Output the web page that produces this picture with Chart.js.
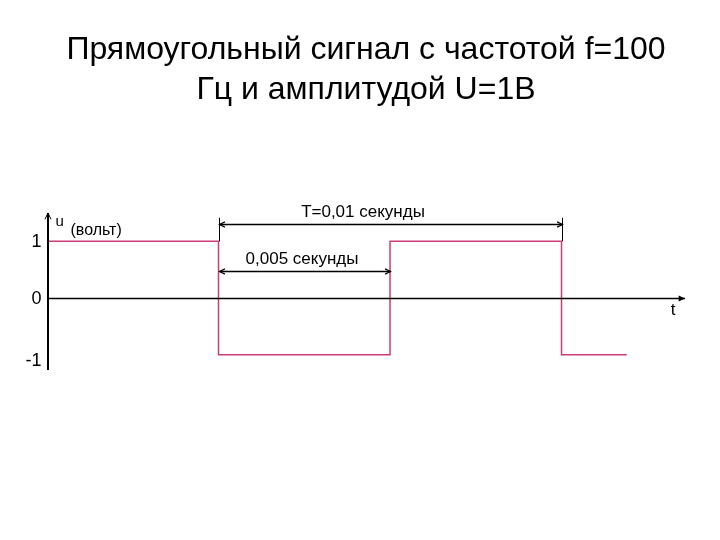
<!DOCTYPE html>
<html>
<head>
<meta charset="utf-8">
<script src="https://cdn.jsdelivr.net/npm/chart.js@4"></script>
<style>
  html, body { margin: 0; padding: 0; background: #fff; }
</style>
</head>
<body>
<canvas id="myChart" width="720" height="540"></canvas>
<script>
const titleLines = ["Прямоугольный сигнал с частотой f=100", "Гц и амплитудой U=1В"];

// square wave, seconds / volts
const timeSec = [0, 0, 0.005, 0.005, 0.01, 0.01, 0.015, 0.015, 0.0169];
const voltage = [0, 1, 1, -1, -1, 1, 1, -1, -1];

const yTickValues = [1, 0, -1];
const yTickLabels = ["1", "0", "-1"];
const yAxisLabel = ["u", "(вольт)"];
const xAxisLabel = "t";

// dimension marks: from, to, level (volts), text
const markFrom = [0.005, 0.005];
const markTo = [0.015, 0.01];
const markLevel = [1.31, 0.48];
const markText = ["T=0,01 секунды", "0,005 секунды"];

const FONT = "'Liberation Sans', Arial, sans-serif";
const waveColor = "#cc3d78";

const arrowHead = (ctx, x, y, dx, dy, size, filled) => {
  const a = Math.atan2(dy, dx);
  ctx.beginPath();
  ctx.moveTo(x - size * Math.cos(a - 0.45), y - size * Math.sin(a - 0.45));
  ctx.lineTo(x, y);
  ctx.lineTo(x - size * Math.cos(a + 0.45), y - size * Math.sin(a + 0.45));
  if (filled) {
    ctx.closePath();
    ctx.fill();
  } else {
    ctx.stroke();
  }
};

const axesPlugin = {
  id: "axesPlugin",
  afterDatasetsDraw(chart) {
    const { ctx, scales } = chart;
    const xs = scales.x;
    const ys = scales.y;
    const x0 = Math.round(xs.getPixelForValue(0)) + 0.5;
    const y0 = Math.round(ys.getPixelForValue(0)) + 0.5;
    const yTop = ys.getPixelForValue(ys.max);
    const yBot = ys.getPixelForValue(-1.27);
    const xEnd = xs.getPixelForValue(xs.max);

    ctx.save();
    ctx.strokeStyle = "#000";
    ctx.fillStyle = "#000";

    // y axis
    ctx.lineWidth = 2;
    ctx.beginPath();
    ctx.moveTo(x0 + 0.5, yBot);
    ctx.lineTo(x0 + 0.5, yTop);
    ctx.stroke();
    ctx.lineWidth = 1;
    arrowHead(ctx, x0 + 0.5, yTop, 0, -1, 7, false);

    // x axis
    ctx.lineWidth = 1.3;
    ctx.beginPath();
    ctx.moveTo(x0, y0);
    ctx.lineTo(xEnd, y0);
    ctx.stroke();
    arrowHead(ctx, xEnd, y0, 1, 0, 7, true);

    // tick labels
    ctx.font = "18px " + FONT;
    ctx.textAlign = "right";
    ctx.textBaseline = "middle";
    yTickValues.forEach((v, i) => {
      const dy = v < 0 ? 6 : 1;
      ctx.fillText(yTickLabels[i], x0 - 6, ys.getPixelForValue(v) + dy);
    });

    // axis titles
    ctx.textAlign = "left";
    ctx.font = "15px " + FONT;
    ctx.fillText(yAxisLabel[0], x0 + 8, yTop + 9);
    ctx.font = "16px " + FONT;
    ctx.fillText(yAxisLabel[1], x0 + 23, yTop + 18);
    ctx.textAlign = "center";
    ctx.font = "17px " + FONT;
    ctx.fillText(xAxisLabel, xEnd - 12, y0 + 12);

    // dimension marks
    const textShift = [-28, -3];
    ctx.font = "17px " + FONT;
    markFrom.forEach((from, i) => {
      const xa = Math.round(xs.getPixelForValue(from)) + 0.5;
      const xb = Math.round(xs.getPixelForValue(markTo[i])) + 0.5;
      const yl = Math.round(ys.getPixelForValue(markLevel[i])) + 0.5;
      ctx.lineWidth = 1.6;
      ctx.beginPath();
      ctx.moveTo(xa, yl);
      ctx.lineTo(xb, yl);
      ctx.stroke();
      ctx.lineWidth = 1.2;
      arrowHead(ctx, xa, yl, -1, 0, 6, false);
      arrowHead(ctx, xb, yl, 1, 0, 6, false);
      ctx.fillText(markText[i], (xa + xb) / 2 + textShift[i], yl - 12);
    });
    // extension lines of the period mark
    ctx.lineWidth = 1;
    const yT = ys.getPixelForValue(markLevel[0]);
    const y1 = ys.getPixelForValue(1);
    [markFrom[0], markTo[0]].forEach((t) => {
      const xp = Math.round(xs.getPixelForValue(t)) + 0.5;
      ctx.beginPath();
      ctx.moveTo(xp, yT - 6);
      ctx.lineTo(xp, y1);
      ctx.stroke();
    });
    ctx.restore();
  },
};

new Chart(document.getElementById("myChart"), {
  type: "scatter",
  data: {
    datasets: [
      {
        label: "u",
        data: timeSec.map((t, i) => ({ x: t, y: voltage[i] })),
        showLine: true,
        borderColor: waveColor,
        borderWidth: 1.5,
        pointRadius: 0,
        tension: 0,
      },
    ],
  },
  options: {
    responsive: false,
    animation: false,
    layout: { padding: { left: 47, right: 35, top: 0, bottom: 157 } },
    scales: {
      x: { type: "linear", min: 0, max: 0.0186, display: false },
      y: { type: "linear", min: -1.5, max: 1.5, display: false },
    },
    plugins: {
      legend: { display: false },
      tooltip: { enabled: false },
      title: {
        display: true,
        text: titleLines,
        color: "#000",
        font: { family: FONT, size: 32, weight: "normal", lineHeight: 1.25 },
        padding: { top: 30, bottom: 103 },
      },
    },
  },
  plugins: [axesPlugin],
});
</script>
</body>
</html>
